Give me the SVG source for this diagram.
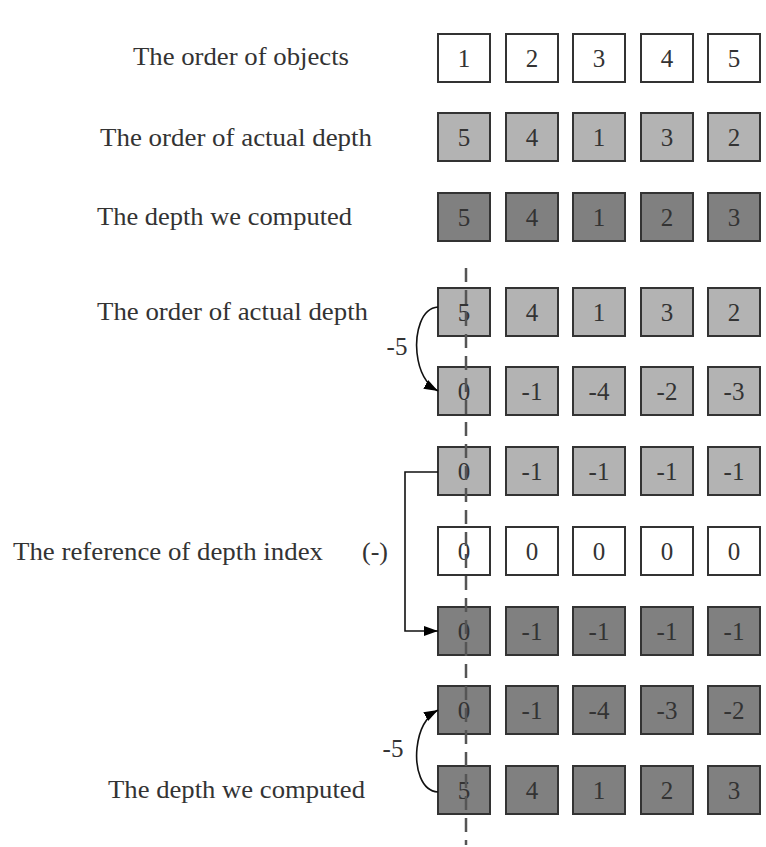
<svg xmlns="http://www.w3.org/2000/svg" width="766" height="847" viewBox="0 0 766 847">
<style>
.lbl{font-family:"Liberation Serif","Times New Roman",serif;font-size:26px;fill:#333}
.num{font-family:"Liberation Serif","Times New Roman",serif;font-size:25px;fill:#333;text-anchor:middle}
.b rect{stroke:#333;stroke-width:2}
.w rect{fill:#fff}
.l rect{fill:#b3b3b3}
.d rect{fill:#808080}
.conn{fill:none;stroke:#111;stroke-width:1.6}
.dash{stroke:#555;stroke-width:2.5;stroke-dasharray:14 8;fill:none}
</style>
<defs>
<marker id="ah" viewBox="0 0 10 10" refX="10" refY="5" markerWidth="10" markerHeight="10" markerUnits="userSpaceOnUse" orient="auto">
<path d="M0,0 L10,5 L0,10 Z" fill="#000"/>
</marker>
<marker id="ah2" viewBox="0 0 14 10" refX="14" refY="5" markerWidth="14" markerHeight="10" markerUnits="userSpaceOnUse" orient="auto">
<path d="M0,0 L14,5 L0,10 Z" fill="#000"/>
</marker>
</defs>
<rect width="766" height="847" fill="#fff"/>

<g id="labels">
<text class="lbl" x="133" y="65" textLength="216" lengthAdjust="spacingAndGlyphs">The order of objects</text>
<text class="lbl" x="100" y="146" textLength="272" lengthAdjust="spacingAndGlyphs">The order of actual depth</text>
<text class="lbl" x="97" y="225" textLength="255" lengthAdjust="spacingAndGlyphs">The depth we computed</text>
<text class="lbl" x="97" y="320" textLength="271" lengthAdjust="spacingAndGlyphs">The order of actual depth</text>
<text class="lbl" x="13" y="560" textLength="310" lengthAdjust="spacingAndGlyphs">The reference of depth index</text>
<text class="lbl" x="362" y="560">(-)</text>
<text class="lbl" x="108" y="798" textLength="257" lengthAdjust="spacingAndGlyphs">The depth we computed</text>
<text class="num" x="397" y="355">-5</text>
<text class="num" x="393" y="757">-5</text>
</g>

<g id="row1" class="b w">
<g id="r1c1"><rect x="438" y="34" width="52" height="48"/><text class="num" x="464" y="67">1</text></g>
<g id="r1c2"><rect x="506" y="34" width="52" height="48"/><text class="num" x="532" y="67">2</text></g>
<g id="r1c3"><rect x="573" y="34" width="52" height="48"/><text class="num" x="599" y="67">3</text></g>
<g id="r1c4"><rect x="641" y="34" width="52" height="48"/><text class="num" x="667" y="67">4</text></g>
<g id="r1c5"><rect x="708" y="34" width="52" height="48"/><text class="num" x="734" y="67">5</text></g>
</g>
<g id="row2" class="b l">
<g id="r2c1"><rect x="438" y="113" width="52" height="48"/><text class="num" x="464" y="146">5</text></g>
<g id="r2c2"><rect x="506" y="113" width="52" height="48"/><text class="num" x="532" y="146">4</text></g>
<g id="r2c3"><rect x="573" y="113" width="52" height="48"/><text class="num" x="599" y="146">1</text></g>
<g id="r2c4"><rect x="641" y="113" width="52" height="48"/><text class="num" x="667" y="146">3</text></g>
<g id="r2c5"><rect x="708" y="113" width="52" height="48"/><text class="num" x="734" y="146">2</text></g>
</g>
<g id="row3" class="b d">
<g id="r3c1"><rect x="438" y="193" width="52" height="48"/><text class="num" x="464" y="226">5</text></g>
<g id="r3c2"><rect x="506" y="193" width="52" height="48"/><text class="num" x="532" y="226">4</text></g>
<g id="r3c3"><rect x="573" y="193" width="52" height="48"/><text class="num" x="599" y="226">1</text></g>
<g id="r3c4"><rect x="641" y="193" width="52" height="48"/><text class="num" x="667" y="226">2</text></g>
<g id="r3c5"><rect x="708" y="193" width="52" height="48"/><text class="num" x="734" y="226">3</text></g>
</g>
<g id="row4" class="b l">
<g id="r4c1"><rect x="438" y="288" width="52" height="48"/><text class="num" x="464" y="321">5</text></g>
<g id="r4c2"><rect x="506" y="288" width="52" height="48"/><text class="num" x="532" y="321">4</text></g>
<g id="r4c3"><rect x="573" y="288" width="52" height="48"/><text class="num" x="599" y="321">1</text></g>
<g id="r4c4"><rect x="641" y="288" width="52" height="48"/><text class="num" x="667" y="321">3</text></g>
<g id="r4c5"><rect x="708" y="288" width="52" height="48"/><text class="num" x="734" y="321">2</text></g>
</g>
<g id="row5" class="b l">
<g id="r5c1"><rect x="438" y="367" width="52" height="48"/><text class="num" x="464" y="400">0</text></g>
<g id="r5c2"><rect x="506" y="367" width="52" height="48"/><text class="num" x="532" y="400">-1</text></g>
<g id="r5c3"><rect x="573" y="367" width="52" height="48"/><text class="num" x="599" y="400">-4</text></g>
<g id="r5c4"><rect x="641" y="367" width="52" height="48"/><text class="num" x="667" y="400">-2</text></g>
<g id="r5c5"><rect x="708" y="367" width="52" height="48"/><text class="num" x="734" y="400">-3</text></g>
</g>
<g id="row6" class="b l">
<g id="r6c1"><rect x="438" y="447" width="52" height="48"/><text class="num" x="464" y="480">0</text></g>
<g id="r6c2"><rect x="506" y="447" width="52" height="48"/><text class="num" x="532" y="480">-1</text></g>
<g id="r6c3"><rect x="573" y="447" width="52" height="48"/><text class="num" x="599" y="480">-1</text></g>
<g id="r6c4"><rect x="641" y="447" width="52" height="48"/><text class="num" x="667" y="480">-1</text></g>
<g id="r6c5"><rect x="708" y="447" width="52" height="48"/><text class="num" x="734" y="480">-1</text></g>
</g>
<g id="row7" class="b w">
<g id="r7c1"><rect x="438" y="527" width="52" height="48"/><text class="num" x="464" y="560">0</text></g>
<g id="r7c2"><rect x="506" y="527" width="52" height="48"/><text class="num" x="532" y="560">0</text></g>
<g id="r7c3"><rect x="573" y="527" width="52" height="48"/><text class="num" x="599" y="560">0</text></g>
<g id="r7c4"><rect x="641" y="527" width="52" height="48"/><text class="num" x="667" y="560">0</text></g>
<g id="r7c5"><rect x="708" y="527" width="52" height="48"/><text class="num" x="734" y="560">0</text></g>
</g>
<g id="row8" class="b d">
<g id="r8c1"><rect x="438" y="607" width="52" height="48"/><text class="num" x="464" y="640">0</text></g>
<g id="r8c2"><rect x="506" y="607" width="52" height="48"/><text class="num" x="532" y="640">-1</text></g>
<g id="r8c3"><rect x="573" y="607" width="52" height="48"/><text class="num" x="599" y="640">-1</text></g>
<g id="r8c4"><rect x="641" y="607" width="52" height="48"/><text class="num" x="667" y="640">-1</text></g>
<g id="r8c5"><rect x="708" y="607" width="52" height="48"/><text class="num" x="734" y="640">-1</text></g>
</g>
<g id="row9" class="b d">
<g id="r9c1"><rect x="438" y="686" width="52" height="48"/><text class="num" x="464" y="719">0</text></g>
<g id="r9c2"><rect x="506" y="686" width="52" height="48"/><text class="num" x="532" y="719">-1</text></g>
<g id="r9c3"><rect x="573" y="686" width="52" height="48"/><text class="num" x="599" y="719">-4</text></g>
<g id="r9c4"><rect x="641" y="686" width="52" height="48"/><text class="num" x="667" y="719">-3</text></g>
<g id="r9c5"><rect x="708" y="686" width="52" height="48"/><text class="num" x="734" y="719">-2</text></g>
</g>
<g id="row10" class="b d">
<g id="r10c1"><rect x="438" y="766" width="52" height="48"/><text class="num" x="464" y="799">5</text></g>
<g id="r10c2"><rect x="506" y="766" width="52" height="48"/><text class="num" x="532" y="799">4</text></g>
<g id="r10c3"><rect x="573" y="766" width="52" height="48"/><text class="num" x="599" y="799">1</text></g>
<g id="r10c4"><rect x="641" y="766" width="52" height="48"/><text class="num" x="667" y="799">2</text></g>
<g id="r10c5"><rect x="708" y="766" width="52" height="48"/><text class="num" x="734" y="799">3</text></g>
</g>

<g id="connectors">
<path class="conn" d="M438,307 C421,308 415,333 417,353 C419,371 425,384 438,391" marker-end="url(#ah2)"/>
<path class="conn" d="M438,472 H405 V631 H438" marker-end="url(#ah2)"/>
<path class="conn" d="M438,792 C421,791 415,768 417,748 C419,730 425,717 438,710" marker-end="url(#ah2)"/>
<line class="dash" x1="466" y1="268" x2="466" y2="845"/>
</g>
</svg>
